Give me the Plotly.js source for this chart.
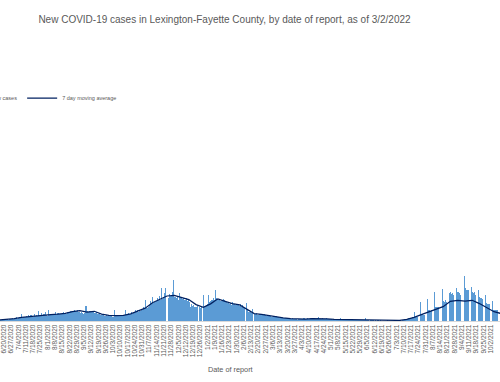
<!DOCTYPE html>
<html><head><meta charset="utf-8">
<script src="https://cdn.plot.ly/plotly-3.0.1.min.js"></script>
<style>html,body{margin:0;padding:0;background:#fff}#chart{width:500px;height:382px}</style>
</head><body><div id="chart"></div>
<script>
// Daily new cases, starting 6/14/2020
const startDate = '2020-06-14';
const newCases = [
  8, 12, 6, 10, 9, 14,
  9, 14, 6, 12, 10, 15, 11,
  12, 20, 15, 22, 18, 25, 16,
  20, 30, 24, 49, 22, 28, 26,
  25, 35, 28, 40, 30, 45, 33,
  30, 52, 35, 45, 38, 70, 36,
  40, 55, 42, 50, 46, 60, 44,
  38, 77, 40, 48, 44, 52, 42,
  40, 65, 45, 55, 47, 50, 46,
  48, 60, 50, 58, 52, 62, 55,
  60, 70, 68, 72, 66, 75, 70,
  70, 75, 60, 65, 55, 62, 58,
  50, 58, 107, 70, 66, 72, 68,
  65, 72, 60, 58, 55, 62, 50,
  48, 52, 40, 45, 44, 42, 38,
  35, 45, 38, 42, 40, 44, 36,
  30, 77, 35, 40, 38, 42, 36,
  38, 45, 36, 42, 40, 76, 44,
  45, 55, 48, 52, 60, 50, 58,
  60, 75, 68, 80, 65, 72, 78,
  80, 95, 85, 147, 88, 92, 100,
  110, 140, 120, 170, 125, 135, 130,
  140, 160, 150, 175, 145, 230, 155,
  170, 195, 230, 0, 160, 187, 175,
  180, 200, 287, 165, 170, 160, 175,
  150, 196, 165, 170, 155, 160, 150,
  145, 160, 140, 155, 130, 100, 120,
  105, 110, 95, 100, 105, 0, 95,
  90, 100, 0, 182, 95, 105, 110,
  120, 182, 130, 140, 145, 150, 160,
  150, 217, 160, 155, 150, 145, 140,
  140, 155, 145, 130, 135, 125, 130,
  120, 125, 115, 130, 118, 122, 110,
  115, 120, 110, 105, 118, 100, 110,
  95, 90, 0, 125, 75, 65, 60,
  55, 82, 0, 50, 48, 55, 45,
  45, 50, 48, 42, 47, 44, 46,
  40, 38, 35, 42, 33, 36, 30,
  30, 32, 28, 35, 25, 30, 24,
  25, 20, 24, 18, 22, 20, 19,
  18, 15, 20, 16, 14, 18, 17,
  12, 16, 14, 10, 15, 12, 13,
  12, 15, 18, 14, 16, 20, 13,
  15, 18, 20, 16, 14, 22, 17,
  16, 18, 25, 15, 17, 14, 19,
  14, 16, 12, 18, 15, 13, 14,
  12, 10, 9, 13, 11, 8, 10,
  9, 12, 20, 8, 10, 9, 11,
  8, 10, 12, 9, 11, 7, 10,
  7, 9, 6, 10, 8, 5, 9,
  5, 7, 4, 8, 6, 20, 5,
  4, 6, 3, 5, 7, 4, 5,
  3, 5, 2, 4, 6, 3, 4,
  0, 3, 0, 2, 0, 4, 0,
  0, 0, 2, 0, 0, 0, 3,
  2, 5, 3, 6, 4, 3, 5,
  8, 10, 15, 12, 14, 20, 13,
  18, 22, 30, 63, 25, 28, 30,
  0, 0, 130, 45, 50, 45, 45,
  0, 0, 155, 75, 80, 70, 75,
  0, 0, 205, 100, 95, 100, 95,
  0, 0, 224, 140, 130, 145, 131,
  0, 0, 198, 200, 190, 195, 183,
  0, 0, 230, 205, 200, 195, 185,
  0, 0, 0, 316, 230, 220, 214,
  0, 0, 235, 200, 195, 200, 185,
  0, 0, 215, 165, 160, 160, 154,
  0, 0, 182, 125, 120, 120, 118,
  0, 0, 140, 80, 80, 80, 75,
  0, 0, 95, 65, 60, 55
];
// 7 day moving average, read weekly (mid-week), first point 6/16/2020
const maStart = '2020-06-16';
const movingAvg = [8, 10, 17, 25, 30, 37, 45, 45, 48, 53, 65, 72, 62, 68, 48, 40, 38, 40, 50, 70, 90,
  128, 152, 175, 180, 163, 150, 115, 95, 120, 155, 138, 121, 113, 80, 52, 46, 37, 29, 22, 17,
  14, 14, 17, 17, 15, 11, 10, 10, 8, 6, 5, 4, 2, 2, 4, 12, 25, 45, 65, 85, 100, 138, 145, 140,
  145, 122, 95, 65, 52];

function addDays(s, n){ const d = new Date(s + 'T00:00:00Z'); d.setUTCDate(d.getUTCDate()+n); return d.toISOString().slice(0,10); }
const barDates = newCases.map((_, i) => addDays(startDate, i));
const maDates = movingAvg.map((_, i) => i === 0 ? maStart : addDays('2020-06-23', (i-1)*7));

const data = [
  {type:'bar', name:'New cases', x: barDates, y: newCases, marker:{color:'#5B9BD5', line:{width:0}}},
  {type:'scatter', mode:'lines', name:'7 day moving average', x: maDates, y: movingAvg,
   line:{color:'#002060', width:1.25}}
];
const layout = {
  width:500, height:382, margin:{l:0, r:0, t:121, b:61, autoexpand:false},
  paper_bgcolor:'#fff', plot_bgcolor:'#fff',
  bargap:0, showlegend:true,
  font:{family:'Liberation Sans, Arial, sans-serif', color:'#595959'},
  title:{text:'New COVID-19 cases in Lexington-Fayette County, by date of report, as of 3/2/2022',
    x:0.449, xanchor:'center', xref:'paper', y:0.95, yanchor:'middle', yref:'container',
    font:{size:10, color:'#595959'}},
  legend:{orientation:'h', x:-0.1, xanchor:'left', y:1.115, yanchor:'middle',
    font:{size:5.5, color:'#595959'}, bgcolor:'rgba(0,0,0,0)'},
  xaxis:{type:'date', range:['2020-06-16 03:36','2021-10-10 19:12'], automargin:false,
    tick0:'2020-06-20', dtick:7*86400000, tickformat:'%-m/%-d/%Y', tickangle:-90,
    tickfont:{size:6.5, color:'#595959'}, ticks:'', showgrid:false, zeroline:false,
    showline:true, linecolor:'#D9D9D9', linewidth:1},
  yaxis:{range:[0,1400], visible:false, fixedrange:true},
  annotations:[{text:'Date of report', xref:'paper', yref:'paper', x:0.46, y:-0.24,
    xanchor:'center', yanchor:'middle', showarrow:false, font:{size:7.3, color:'#595959'}}]
};
Plotly.newPlot('chart', data, layout, {displayModeBar:false, staticPlot:true});
</script></body></html>
